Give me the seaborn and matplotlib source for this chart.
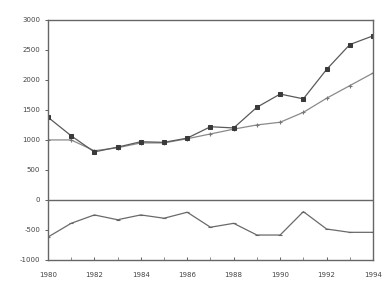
import numpy as np
import pandas as pd
import seaborn as sns
import matplotlib.pyplot as plt

# values
years = list(range(1980, 1995))
upper = [1380, 1070, 800, 880, 970, 960, 1030, 1220, 1200, 1545, 1765, 1685, 2175, 2590, 2735]
lower = [1000, 1000, 820, 870, 950, 950, 1020, 1100, 1180, 1250, 1295, 1460, 1695, 1905, 2115]
diff = [-620, -390, -250, -330, -250, -305, -205, -455, -390, -585, -585, -195, -485, -540, -540]

x_labels = [str(y) for y in range(1980, 1995, 2)]
y_ticks = list(range(-1000, 3001, 500))

sns.set_style("ticks")
plt.rcParams["font.family"] = ["DejaVu Sans"]

fig = plt.figure(figsize=(3.83, 2.81), dpi=100)
ax = fig.add_axes([0.125, 0.075, 0.849, 0.854])

ax.axhline(0, color="#666666", lw=1.0, zorder=1)

sns.lineplot(x=years, y=lower, ax=ax, color="#8a8a8a", lw=0.9,
             marker="+", markersize=3.5, markeredgewidth=0.8, markeredgecolor="#777777")
sns.lineplot(x=years, y=upper, ax=ax, color="#5a5a5a", lw=0.9,
             marker="s", markersize=3.0, markerfacecolor="#3a3a3a", markeredgecolor="#3a3a3a")
sns.lineplot(x=years, y=diff, ax=ax, color="#6a6a6a", lw=0.9,
             marker="_", markersize=3.5, markeredgewidth=0.8, markeredgecolor="#666666")

ax.set_xlim(1980, 1994)
ax.set_ylim(-1000, 3000)
ax.set_yticks(y_ticks)
ax.set_yticklabels([str(v) for v in y_ticks])
ax.set_xticks(range(1980, 1995, 2))
ax.set_xticks(years, minor=True)
ax.set_xticklabels(x_labels)

for side in ["top", "right", "left", "bottom"]:
    ax.spines[side].set_visible(True)
    ax.spines[side].set_color("#666666")
    ax.spines[side].set_linewidth(1.0)

ax.tick_params(axis="both", labelsize=5, colors="#444444", length=2.5, width=0.6, pad=3)
ax.tick_params(axis="x", which="minor", direction="in", length=2, width=0.6, colors="#777777")
ax.tick_params(axis="x", which="major", direction="in", pad=9)
ax.tick_params(axis="y", direction="out")
ax.set_xlabel("")
ax.set_ylabel("")

fig.savefig("out.png", dpi=100)
